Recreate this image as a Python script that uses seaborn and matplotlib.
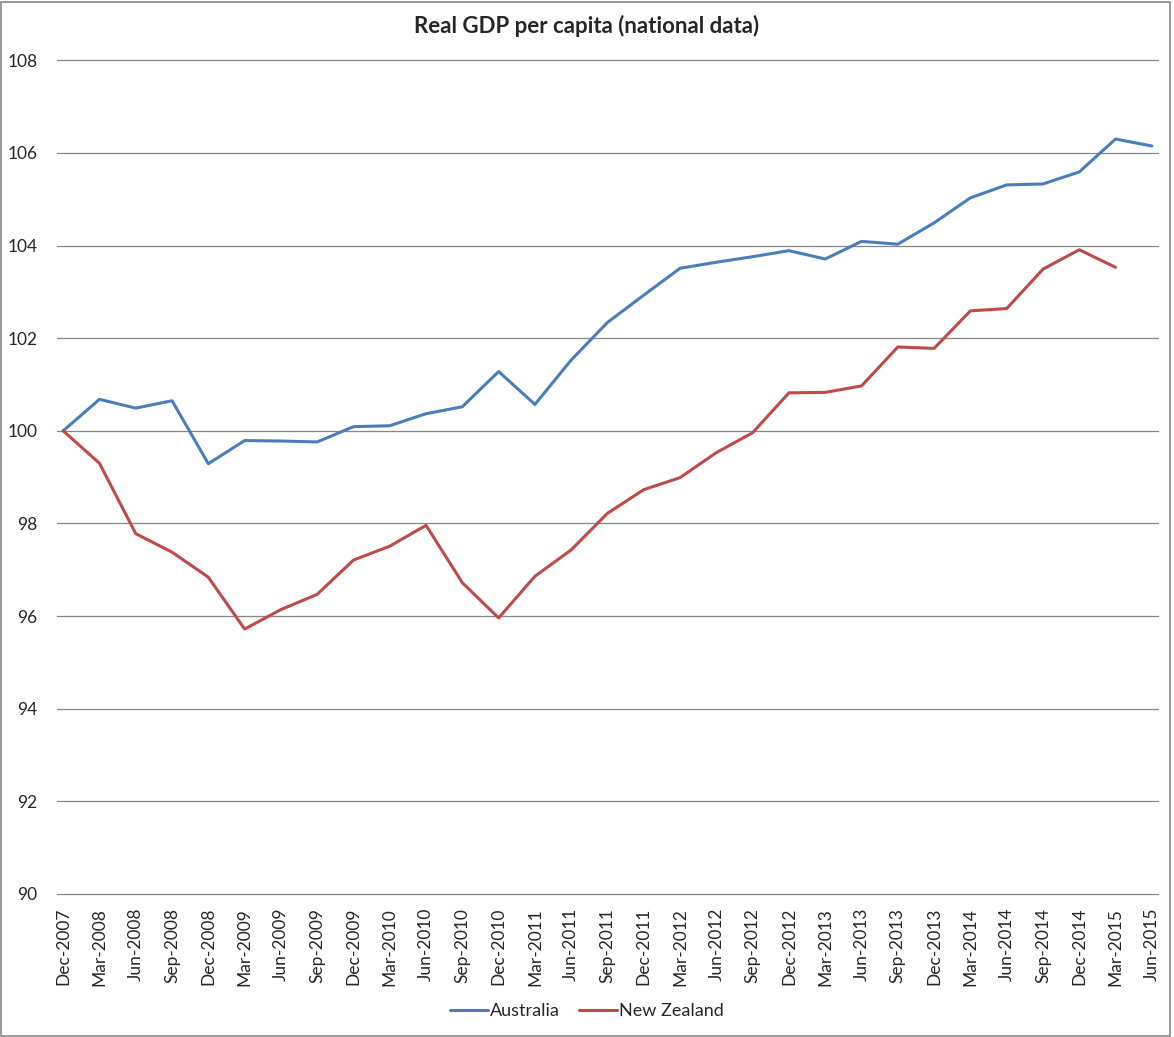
import numpy as np
import pandas as pd
import matplotlib
matplotlib.use('Agg')
import matplotlib.pyplot as plt
import matplotlib.patches as patches
import seaborn as sns

quarters = ['Dec-2007', 'Mar-2008', 'Jun-2008', 'Sep-2008', 'Dec-2008', 'Mar-2009',
            'Jun-2009', 'Sep-2009', 'Dec-2009', 'Mar-2010', 'Jun-2010', 'Sep-2010',
            'Dec-2010', 'Mar-2011', 'Jun-2011', 'Sep-2011', 'Dec-2011', 'Mar-2012',
            'Jun-2012', 'Sep-2012', 'Dec-2012', 'Mar-2013', 'Jun-2013', 'Sep-2013',
            'Dec-2013', 'Mar-2014', 'Jun-2014', 'Sep-2014', 'Dec-2014', 'Mar-2015',
            'Jun-2015']

australia = [100.0, 100.68, 100.49, 100.65, 99.29, 99.79, 99.78, 99.76, 100.09, 100.11,
             100.37, 100.52, 101.28, 100.57, 101.53, 102.34, 102.93, 103.51, 103.64,
             103.76, 103.89, 103.71, 104.09, 104.03, 104.49, 105.03, 105.31, 105.33,
             105.59, 106.30, 106.15]

new_zealand = [100.0, 99.30, 97.78, 97.38, 96.84, 95.72, 96.14, 96.47, 97.21, 97.51,
               97.96, 96.72, 95.96, 96.86, 97.43, 98.22, 98.73, 98.99, 99.53, 99.96,
               100.82, 100.83, 100.97, 101.81, 101.78, 102.59, 102.64, 103.49, 103.91,
               103.53, np.nan]

yticks = [90, 92, 94, 96, 98, 100, 102, 104, 106, 108]

sns.set_style('white')
plt.rcParams['font.family'] = ['Lato', 'DejaVu Sans']

df = pd.DataFrame({'q': range(len(quarters)), 'Australia': australia,
                   'New Zealand': new_zealand})
df = df.melt(id_vars='q', var_name='country', value_name='gdp').dropna()

fig = plt.figure(figsize=(11.74, 10.37), dpi=100)
ax = fig.add_axes([57 / 1174, 1 - 894 / 1037, 1101 / 1174, (894 - 60.3) / 1037])

sns.lineplot(data=df, x='q', y='gdp', hue='country',
             palette={'Australia': '#4A7EBB', 'New Zealand': '#BE4B48'},
             linewidth=2.2, ax=ax, legend=False)

ax.set_ylim(90, 108)
ax.set_yticks(yticks)
ax.set_xlim(-0.17, len(quarters) - 1 + 0.17)
ax.set_xticks(range(len(quarters)))
ax.set_xticklabels(quarters, rotation=90, fontsize=12.5)
ax.tick_params(axis='y', length=0, pad=14, labelsize=12.5)
ax.tick_params(axis='x', length=0, pad=10)
ax.set_xlabel('')
ax.set_ylabel('')
for s in ax.spines.values():
    s.set_visible(False)
for y in yticks:
    ax.axhline(y, color='#868686', linewidth=0.9, zorder=0, clip_on=False)

fig.text(0.5, 1 - 26 / 1037, 'Real GDP per capita (national data)', ha='center',
         va='center', fontsize=16, fontweight='bold')

handles = [plt.Line2D([], [], color='#4A7EBB', linewidth=2.2),
           plt.Line2D([], [], color='#BE4B48', linewidth=2.2)]
fig.legend(handles, ['Australia', 'New Zealand'], loc='center',
           bbox_to_anchor=(0.5, 1 - 1011 / 1037), ncol=2, frameon=False,
           fontsize=13, handlelength=2.1, handletextpad=0.1, columnspacing=1.1)

fig.add_artist(patches.Rectangle((0.001, 0.001), 0.996, 0.997, transform=fig.transFigure,
                                 fill=False, edgecolor='#888888', linewidth=1.2))

fig.savefig('out.png', dpi=100)
